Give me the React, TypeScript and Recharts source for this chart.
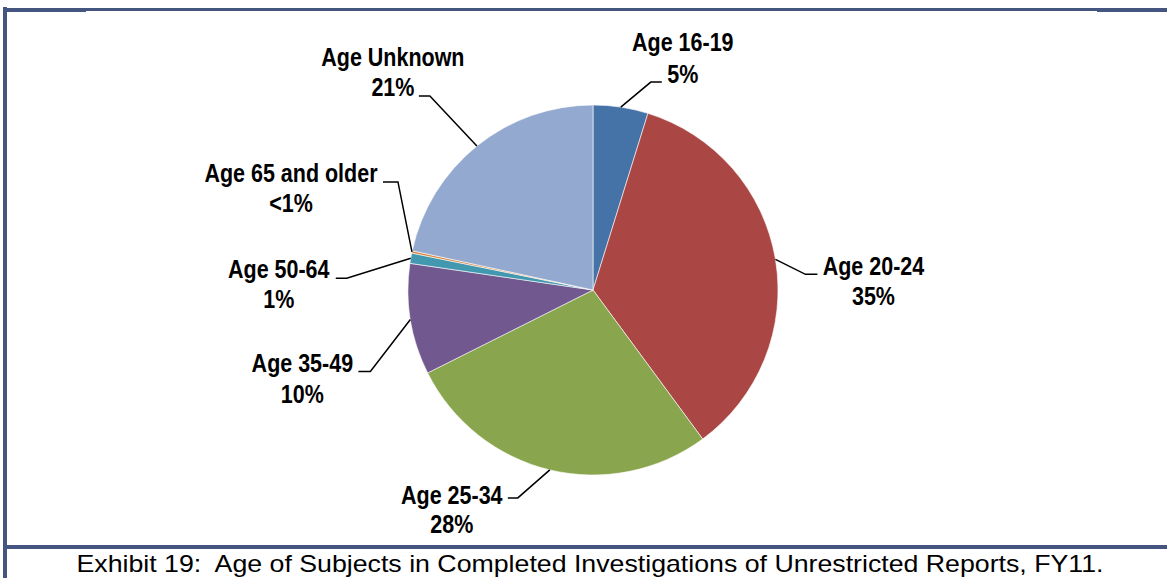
import { PieChart, Pie, Cell } from "recharts";

const ageGroups = [
  "Age 16-19",
  "Age 20-24",
  "Age 25-34",
  "Age 35-49",
  "Age 50-64",
  "Age 65 and older",
  "Age Unknown",
];
const shares = [4.8, 35.1, 27.7, 9.7, 0.9, 0.2, 21.6];
const shareLabels = ["5%", "35%", "28%", "10%", "1%", "<1%", "21%"];
const sliceColors = ["#4572A7", "#AA4643", "#89A54E", "#71588F", "#4198AF", "#DB843D", "#93A9CF"];

const data = ageGroups.map((name, i) => ({ name, value: shares[i], label: shareLabels[i] }));

// leader line elbow / tail and text block, relative to the slice edge point
const labelLayout = [
  { ex: 30, ey: -25, tx: 41, cx: 62, b1: -56, b2: -24 },
  { ex: 30, ey: 15, tx: 42, cx: 98, b1: 16, b2: 46 },
  { ex: -32, ey: 28, tx: -42, cx: -98, b1: 34, b2: 63 },
  { ex: -40, ey: 52, tx: -52, cx: -108, b1: 52, b2: 83 },
  { ex: -64, ey: 20, tx: -75, cx: -132, b1: 20, b2: 50 },
  { ex: -14, ey: -70, tx: -29, cx: -121, b1: -70, b2: -40 },
  { ex: -47, ey: -50, tx: -58, cx: -84, b1: -80, b2: -50 },
];

const RADIAN = Math.PI / 180;
const FRAME = "#44557F";

const renderLabel = (props: any) => {
  const { cx, cy, midAngle, outerRadius, index, payload } = props;
  const x0 = cx + outerRadius * Math.cos(-midAngle * RADIAN);
  const y0 = cy + outerRadius * Math.sin(-midAngle * RADIAN);
  const l = labelLayout[index];
  const textStyle = {
    fontFamily: "Arial, 'Liberation Sans', sans-serif",
    fontWeight: 700,
    fontSize: 25,
    fill: "#000",
  };
  return (
    <g key={`lbl-${index}`}>
      <polyline
        points={`${x0},${y0} ${x0 + l.ex},${y0 + l.ey} ${x0 + l.tx},${y0 + l.ey}`}
        fill="none"
        stroke="#000"
        strokeWidth={1.5}
      />
      <text
        transform={`translate(${x0 + l.cx},${y0 + l.b1}) scale(0.86,1)`}
        textAnchor="middle"
        style={textStyle}
      >
        {payload.name}
      </text>
      <text
        transform={`translate(${x0 + l.cx},${y0 + l.b2}) scale(0.86,1)`}
        textAnchor="middle"
        style={textStyle}
      >
        {payload.label}
      </text>
    </g>
  );
};

export default function App() {
  return (
    <div style={{ position: "absolute", left: 0, top: 0, width: 1167, height: 578, background: "#fff", overflow: "hidden" }}>
      {/* frame */}
      <div style={{ position: "absolute", left: 3, top: 7, width: 4, height: 571, background: FRAME }} />
      <div style={{ position: "absolute", left: 3, top: 8, width: 1164, height: 3, background: FRAME }} />
      <div style={{ position: "absolute", left: 3, top: 8, width: 83, height: 4, background: FRAME }} />
      <div style={{ position: "absolute", left: 1097, top: 8, width: 70, height: 4, background: FRAME }} />
      <div style={{ position: "absolute", left: 3, top: 545, width: 1164, height: 4, background: FRAME }} />

      <div style={{ position: "absolute", left: 0, top: 0 }}>
        <PieChart width={1167} height={578} margin={{ top: 0, right: 0, bottom: 0, left: 0 }}>
          <Pie
            data={data}
            dataKey="value"
            nameKey="name"
            cx={593}
            cy={290}
            outerRadius={185}
            startAngle={90}
            endAngle={-270}
            stroke="#fff"
            strokeWidth={0.6}
            label={renderLabel}
            labelLine={false}
            isAnimationActive={false}
          >
            {data.map((d, i) => (
              <Cell key={d.name} fill={sliceColors[i]} />
            ))}
          </Pie>
        </PieChart>
      </div>

      <div
        style={{
          position: "absolute",
          left: 0,
          width: 1180,
          top: 549,
          textAlign: "center",
          fontFamily: "Arial, 'Liberation Sans', sans-serif",
          fontSize: 24,
          lineHeight: "29px",
          color: "#000",
          whiteSpace: "pre",
          transform: "scaleX(1.113)",
          transformOrigin: "590px 0",
        }}
      >
        {"Exhibit 19:  Age of Subjects in Completed Investigations of Unrestricted Reports, FY11."}
      </div>
    </div>
  );
}
